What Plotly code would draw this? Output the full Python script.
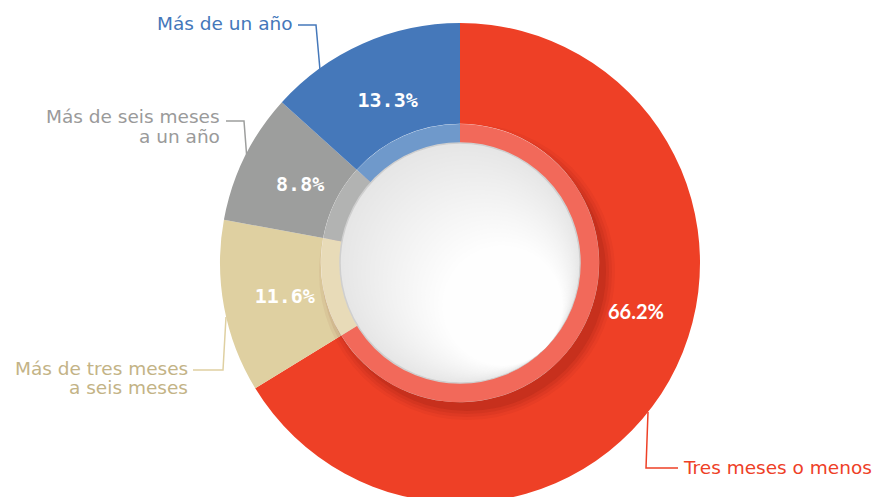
import plotly.graph_objects as go

# Data
categories = ["Tres meses o menos", "Más de tres meses a seis meses",
              "Más de seis meses a un año", "Más de un año"]
values = [66.2, 11.6, 8.8, 13.3]
pct_labels = ["66.2%", "11.6%", "8.8%", "13.3%"]
label_lines = [["Tres meses o menos"], ["Más de tres meses", "a seis meses"],
               ["Más de seis meses", "a un año"], ["Más de un año"]]

slice_colors = ["#EE4026", "#DFD0A1", "#9D9E9D", "#4578BA"]
ring_colors = ["#F2695A", "#E8DBB8", "#B2B3B2", "#6F99CB"]
label_colors = ["#EE4026", "#C3B386", "#9A9A9A", "#4477BA"]

W, H = 874, 503
CX, CY = 460, 263


def dom(r, dx=0, dy=0):
    """Pie domain (paper coords) for a circle of radius r px at the chart centre."""
    cx, cy = CX + dx, CY + dy
    return dict(x=[(cx - r) / W, (cx + r) / W], y=[1 - (cy + r) / H, 1 - (cy - r) / H])


def px(x, y):
    return x / W, 1 - y / H


fig = go.Figure()

# Main donut
fig.add_trace(go.Pie(
    values=values, labels=categories, textinfo="none",
    marker=dict(colors=slice_colors, line=dict(width=0)),
    sort=False, direction="clockwise", rotation=0, hole=0.58,
    domain=dom(240), showlegend=False, hoverinfo="label+percent",
))

# soft shadow under the inner ring
for r, a in [(148, 0.05), (145, 0.07), (142, 0.09), (139, 0.12)]:
    fig.add_trace(go.Pie(
        values=[1], marker=dict(colors=[f"rgba(110,20,10,{a})"], line=dict(width=0)),
        textinfo="none", hoverinfo="skip", showlegend=False, sort=False,
        domain=dom(r, 7, 9),
    ))

# Lighter inner ring
fig.add_trace(go.Pie(
    values=values, textinfo="none", hoverinfo="skip",
    marker=dict(colors=ring_colors, line=dict(width=0)),
    sort=False, direction="clockwise", rotation=0, hole=120 / 139,
    domain=dom(139), showlegend=False,
))

# Centre disc with a faked diagonal gradient (grey top-left to white bottom-right)
fig.add_trace(go.Pie(
    values=[1], marker=dict(colors=["#E6E6E6"], line=dict(width=1.5, color="#CFCFCF")),
    textinfo="none", hoverinfo="skip", showlegend=False, domain=dom(120),
))
steps = 24
for k in range(1, steps + 1):
    r = 120 - k * 2.5
    s = k * 2.5 / 2 ** 0.5
    c = int(0xE6 + (0xFE - 0xE6) * k / steps)
    fig.add_trace(go.Pie(
        values=[1], marker=dict(colors=[f"rgb({c},{c},{c})"], line=dict(width=0)),
        textinfo="none", hoverinfo="skip", showlegend=False, domain=dom(r, s, s),
    ))

# Percent labels: transparent ring whose centre line sits where the source puts them
small = [t if v < 50 else "" for t, v in zip(pct_labels, values)]
fig.add_trace(go.Pie(
    values=values, text=small, textinfo="text", textposition="inside",
    insidetextorientation="horizontal",
    textfont=dict(color="white", size=20, family="DejaVu Sans Mono", weight="bold"),
    marker=dict(colors=["rgba(0,0,0,0)"] * 4, line=dict(width=0)),
    sort=False, direction="clockwise", rotation=0, hole=0.62,
    domain=dom(220), showlegend=False, hoverinfo="skip",
))
bx, by = px(636, 311)
fig.add_annotation(x=bx, y=by, xref="paper", yref="paper", text=pct_labels[0],
                   showarrow=False, xanchor="center", yanchor="middle",
                   font=dict(color="white", size=20, family="Lato", weight="bold"))

# Outside labels with elbow leader lines
label_spec = [
    # idx, anchor x, first-line y, xanchor, leader line points
    (3, 294, 23, "right", [(298, 25), (316, 25), (320, 70)]),
    (2, 221, 117, "right", [(226, 121), (244, 121), (247, 160)]),
    (1, 189, 368, "right", [(193, 370), (223, 370), (226, 317)]),
    (0, 682, 467, "left", [(648, 412), (646, 468), (678, 468)]),
]
shapes = []
for idx, x, y, xa, pts in label_spec:
    for j, line in enumerate(label_lines[idx]):
        ax, ay = px(x, y + 19 * j)
        fig.add_annotation(
            x=ax, y=ay, xref="paper", yref="paper", text=line, showarrow=False,
            xanchor=xa, yanchor="middle", borderpad=0,
            font=dict(family="DejaVu Sans", size=18.5, color=label_colors[idx]),
        )
    path = "M " + " L ".join(f"{px(a, b)[0]},{px(a, b)[1]}" for a, b in pts)
    shapes.append(dict(type="path", path=path, xref="paper", yref="paper",
                       line=dict(color=slice_colors[idx], width=1.5)))

fig.update_layout(
    width=W, height=H, margin=dict(l=0, r=0, t=0, b=0),
    paper_bgcolor="white", plot_bgcolor="white", shapes=shapes,
)

fig.write_html(
    "out.html",
    config={"displayModeBar": False},
    post_script="document.body.style.margin='0';document.body.style.overflow='hidden';",
)
